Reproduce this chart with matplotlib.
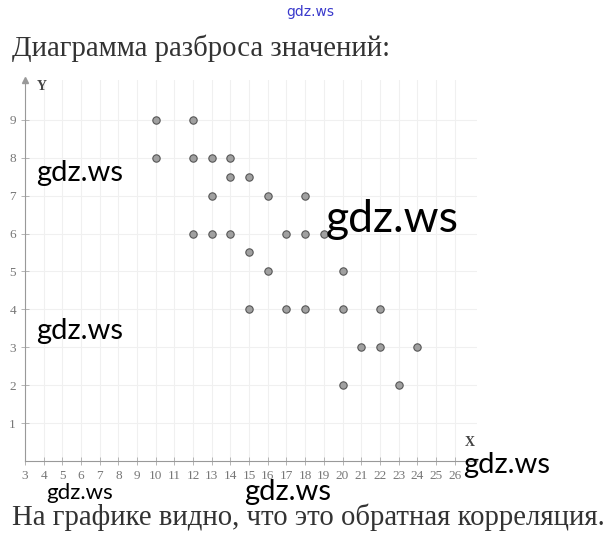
import numpy as np
import matplotlib.pyplot as plt

# данные точек (x, y)
x_vals = [10, 12, 10, 12, 13, 14, 14, 15, 13, 16, 18, 12, 13, 14, 17, 18, 19,
          15, 16, 20, 15, 17, 18, 20, 22, 21, 22, 24, 20, 23]
y_vals = [9, 9, 8, 8, 8, 8, 7.5, 7.5, 7, 7, 7, 6, 6, 6, 6, 6, 6,
          5.5, 5, 5, 4, 4, 4, 4, 4, 3, 3, 3, 2, 2]
x_ticks = list(range(3, 27))
y_ticks = list(range(1, 10))

title_text = "Диаграмма разброса значений:"
bottom_text = "На графике видно, что это обратная корреляция."

fig = plt.figure(figsize=(6.11, 5.41), dpi=100)
ax = fig.add_axes([25 / 611, 80 / 541, 452 / 611, 381 / 541])
ax.set_xlim(3, 27.2)
ax.set_ylim(0, 10.05)

# бледная сетка
for xv in x_ticks:
    ax.axvline(xv, color='#f0f0f0', lw=0.8, zorder=0)
for yv in y_ticks:
    ax.axhline(yv, color='#f0f0f0', lw=0.8, zorder=0)

ax.scatter(x_vals, y_vals, s=28, color='#a0a0a0', edgecolors='#555555',
           linewidths=0.8, zorder=3)

for side in ['top', 'right']:
    ax.spines[side].set_visible(False)
ax.spines['left'].set_color('#999999')
ax.spines['bottom'].set_color('#999999')
ax.spines['left'].set_linewidth(0.8)
ax.spines['bottom'].set_linewidth(0.8)
ax.plot(3, 10.05, marker='^', color='#999999', markersize=4, clip_on=False)

ax.set_xticks(x_ticks)
ax.set_yticks(y_ticks)
ax.tick_params(axis='both', direction='inout', length=6, width=0.6, color='#aaaaaa',
               labelcolor='#777777', labelsize=9.5)
for lab in ax.get_xticklabels() + ax.get_yticklabels():
    lab.set_family('Liberation Serif')

ax.text(42 / 611, 1 - 87 / 541, 'Y', transform=fig.transFigure, fontsize=10,
        fontweight='bold', family='Liberation Serif', color='#444444',
        ha='center', va='center')
ax.text(470 / 611, 1 - 443 / 541, 'X', transform=fig.transFigure, fontsize=10,
        fontweight='bold', family='Liberation Serif', color='#444444',
        ha='center', va='center')

fig.text(12 / 611, 1 - 48 / 541, title_text, fontsize=20.7, family='Liberation Serif',
         color='#333333', ha='left', va='center')
fig.text(12 / 611, 1 - 517 / 541, bottom_text, fontsize=20.7, family='Liberation Serif',
         color='#333333', ha='left', va='center')

# водяные знаки
fig.text(310 / 611, 1 - 12 / 541, 'gdz.ws', fontsize=10, family='DejaVu Sans',
         color='#3a3acc', ha='center', va='center')
marks = [(80, 173, 21), (392, 220, 32), (80, 331, 21), (507, 465, 21),
         (80, 493, 16), (288, 492, 21)]
for mx, my, ms in marks:
    fig.text(mx / 611, 1 - my / 541, 'gdz.ws', fontsize=ms, family='Lato',
             color='black', ha='center', va='center')

fig.savefig('out.png', dpi=100)
